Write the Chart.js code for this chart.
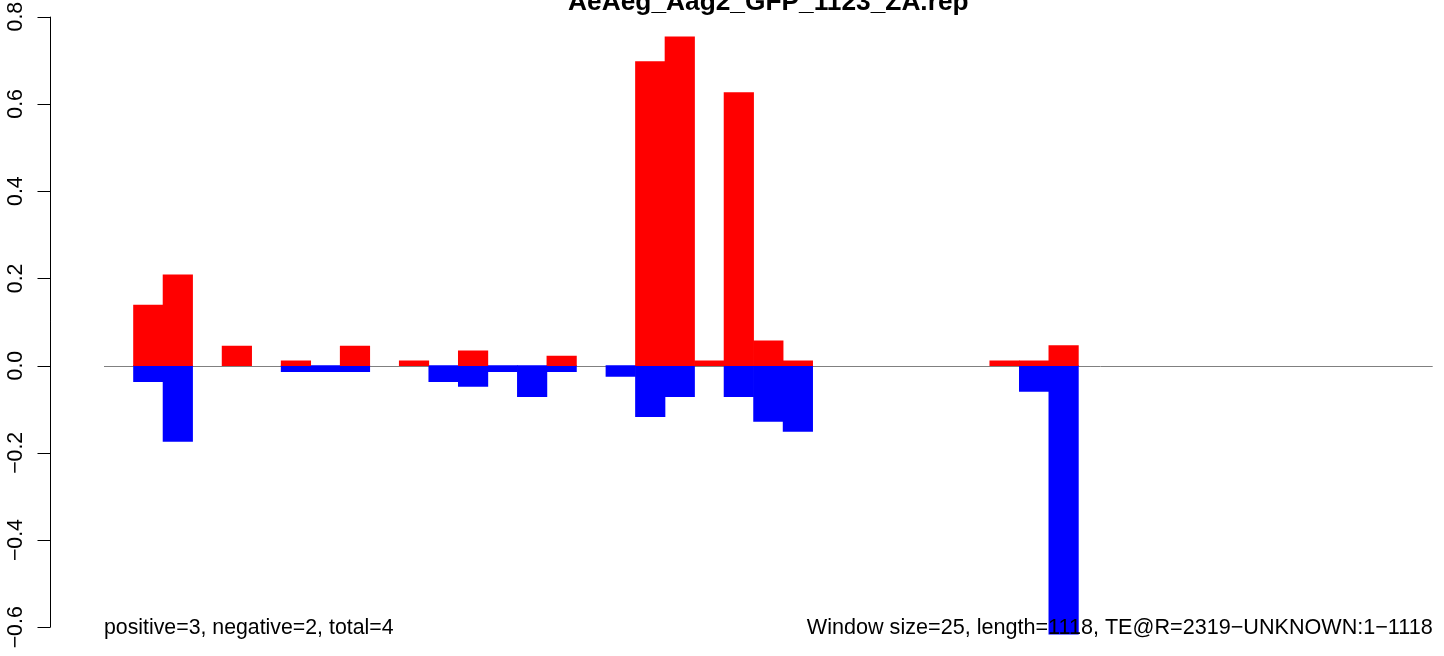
<!DOCTYPE html>
<html>
<head>
<meta charset="utf-8">
<script src="https://cdn.jsdelivr.net/npm/chart.js@4.4.1/dist/chart.umd.min.js"></script>
<style>
	html, body { margin: 0; padding: 0; background: #fff; }
	#wrap { width: 1444px; height: 656px; position: relative; }
</style>
</head>
<body>
<div id="wrap"><canvas id="chart"></canvas></div>
<script>
// 45 windows of 25 nt over 1118 nt
var bins = [];
for (var i = 0; i < 45; i++) bins.push(String(i + 1));

var positive = [null, 0.139, 0.208, null, 0.045, null, 0.011, null, 0.045, null,
	0.011, null, 0.034, null, null, 0.022, null, null, 0.697, 0.754,
	0.011, 0.626, 0.057, 0.011, null, null, null, null, null, null,
	0.011, 0.011, 0.046, null, null, null, null, null, null, null,
	null, null, null, null, null];

var negative = [null, -0.037, -0.174, null, null, null, -0.014, -0.014, -0.014, null,
	null, -0.037, -0.048, -0.014, -0.071, -0.014, null, -0.025, -0.117, -0.071,
	null, -0.071, -0.128, -0.151, null, null, null, null, null, null,
	null, -0.059, -0.616, null, null, null, null, null, null, null,
	null, null, null, null, null];

var yTicks = [-0.6, -0.4, -0.2, 0.0, 0.2, 0.4, 0.6, 0.8];
var yLabels = ["\u22120.6", "\u22120.4", "\u22120.2", "0.0", "0.2", "0.4", "0.6", "0.8"];

var titleText = "AeAeg_Aag2_GFP_1123_ZA.rep";
var leftNote = "positive=3, negative=2, total=4";
var rightNote = "Window size=25, length=1118, TE@R=2319\u2212UNKNOWN:1\u22121118";

var FONT = '"Liberation Sans", Arial, Helvetica, sans-serif';

// zero line, drawn under the bars
var zeroLine = {
	id: "zeroLine",
	beforeDatasetsDraw: function(chart) {
		var ctx = chart.ctx, area = chart.chartArea;
		var y = Math.round(chart.scales.y.getPixelForValue(0)) + 0.5;
		ctx.save();
		ctx.strokeStyle = "#808080";
		ctx.lineWidth = 1;
		ctx.beginPath();
		ctx.moveTo(area.left, y);
		ctx.lineTo(area.right, y);
		ctx.stroke();
		ctx.restore();
	}
};

// R style axis, title and notes
var decorations = {
	id: "decorations",
	afterDraw: function(chart) {
		var ctx = chart.ctx, ys = chart.scales.y, area = chart.chartArea;
		var axisX = 50.5;
		ctx.save();
		ctx.strokeStyle = "#000";
		ctx.lineWidth = 1;
		ctx.beginPath();
		ctx.moveTo(axisX, ys.getPixelForValue(yTicks[yTicks.length - 1]));
		ctx.lineTo(axisX, ys.getPixelForValue(yTicks[0]));
		yTicks.forEach(function(v) {
			var py = Math.round(ys.getPixelForValue(v)) + 0.5;
			ctx.moveTo(axisX - 13, py);
			ctx.lineTo(axisX, py);
		});
		ctx.stroke();

		ctx.fillStyle = "#000";
		ctx.font = "21.3px " + FONT;
		ctx.textAlign = "center";
		ctx.textBaseline = "alphabetic";
		yTicks.forEach(function(v, i) {
			ctx.save();
			ctx.translate(22, ys.getPixelForValue(v));
			ctx.rotate(-Math.PI / 2);
			ctx.fillText(yLabels[i], 0, 0);
			ctx.restore();
		});

		ctx.font = "bold 26.3px " + FONT;
		ctx.textAlign = "center";
		ctx.fillText(titleText, (area.left + area.right) / 2, 10);

		ctx.font = "21.3px " + FONT;
		ctx.textAlign = "left";
		ctx.fillText(leftNote, area.left, 634);
		ctx.textAlign = "right";
		ctx.font = "21.6px " + FONT;
		ctx.fillText(rightNote, area.right, 634);
		ctx.restore();
	}
};

var chart = new Chart(document.getElementById("chart"), {
	type: "bar",
	data: {
		labels: bins,
		datasets: [
			{
				label: "positive",
				data: positive,
				backgroundColor: "#FF0000",
				borderWidth: 0,
				grouped: false,
				barPercentage: 1,
				categoryPercentage: 1
			},
			{
				label: "negative",
				data: negative,
				backgroundColor: "#0000FF",
				borderWidth: 0,
				grouped: false,
				barPercentage: 1,
				categoryPercentage: 1
			}
		]
	},
	options: {
		responsive: true,
		maintainAspectRatio: false,
		animation: false,
		layout: { padding: { left: 104, right: 11.3, top: 0, bottom: 0 } },
		scales: {
			x: { display: false },
			y: { display: false, min: -0.6658, max: 0.8382 }
		},
		plugins: {
			legend: { display: false },
			tooltip: { enabled: false },
			title: { display: false }
		}
	},
	plugins: [zeroLine, decorations]
});
</script>
</body>
</html>
